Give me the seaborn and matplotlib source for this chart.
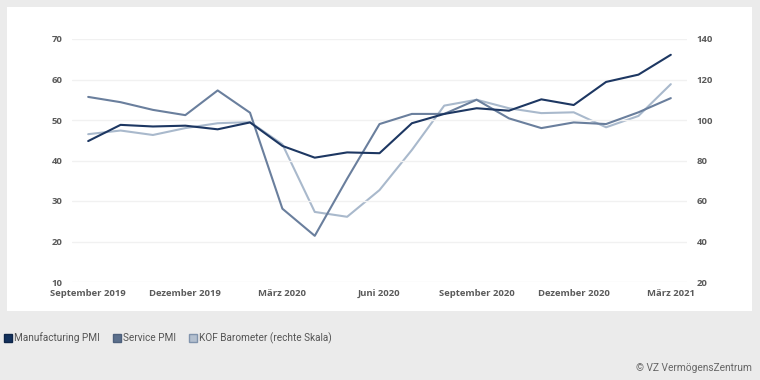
import numpy as np
import pandas as pd
import matplotlib
matplotlib.use("Agg")
import matplotlib.pyplot as plt
from matplotlib.patches import Rectangle
from matplotlib.lines import Line2D
import seaborn as sns

# ─── Data ─────────────────────────────────────────────────────────────────────
months = [
    "Sep 2019", "Okt 2019", "Nov 2019", "Dez 2019", "Jan 2020", "Feb 2020",
    "Mär 2020", "Apr 2020", "Mai 2020", "Jun 2020", "Jul 2020", "Aug 2020",
    "Sep 2020", "Okt 2020", "Nov 2020", "Dez 2020", "Jan 2021", "Feb 2021",
    "Mär 2021",
]
manufacturing_pmi = [44.8, 48.8, 48.4, 48.6, 47.7, 49.4, 43.6, 40.7, 42.0, 41.8,
                     49.2, 51.5, 52.9, 52.3, 55.1, 53.7, 59.4, 61.2, 66.1]
service_pmi = [55.7, 54.4, 52.5, 51.2, 57.3, 51.8, 28.1, 21.4, 35.5, 49.0,
               51.5, 51.5, 55.0, 50.4, 48.0, 49.4, 49.0, 51.9, 55.4]
kof_barometer = [93.0, 94.8, 92.6, 96.0, 98.4, 99.0, 88.0, 54.6, 52.2, 65.4,
                 85.2, 107.1, 110.0, 105.8, 103.4, 103.8, 96.4, 102.0, 117.7]

tick_idx = [0, 3, 6, 9, 12, 15, 18]
tick_labels = ["September 2019", "Dezember 2019", "März 2020", "Juni 2020",
               "September 2020", "Dezember 2020", "März 2021"]
left_ticks = [10, 20, 30, 40, 50, 60, 70]
right_ticks = [20, 40, 60, 80, 100, 120, 140]

series_names = ["Manufacturing PMI", "Service PMI", "KOF Barometer (rechte Skala)"]

C_DARK = "#1d3762"
C_MID = "#6a7f9d"
C_LIGHT = "#a9b9cc"
BG = "#ebebeb"
TICK_C = "#5a5a5a"
NARROW = ["Roboto", "DejaVu Sans"]

df = pd.DataFrame({
    "x": np.arange(len(months)),
    "manufacturing": manufacturing_pmi,
    "service": service_pmi,
    "kof": kof_barometer,
})

sns.set_theme(style="white")
plt.rcParams["font.family"] = ["Open Sans", "DejaVu Sans"]

fig = plt.figure(figsize=(7.6, 3.8), dpi=100, facecolor=BG)
fig.patches.append(Rectangle((7 / 760, 1 - 311 / 380), 745 / 760, 304 / 380,
                             transform=fig.transFigure, facecolor="white",
                             edgecolor="none", zorder=-5))

ax = fig.add_axes([72 / 760, 1 - 282 / 380, 615 / 760, 243 / 380])
ax.set_facecolor("none")
ax2 = ax.twinx()
ax2.patch.set_visible(False)

sns.lineplot(data=df, x="x", y="kof", ax=ax2, color=C_LIGHT, linewidth=1.5)
sns.lineplot(data=df, x="x", y="service", ax=ax, color=C_MID, linewidth=1.5)
sns.lineplot(data=df, x="x", y="manufacturing", ax=ax, color=C_DARK, linewidth=1.5)

# draw left-axis lines above the twin axis
ax.set_zorder(ax2.get_zorder() + 1)

ax.set_xlim(-0.5, len(months) - 0.5)
ax.set_ylim(10, 70)
ax2.set_ylim(20, 140)
ax.set_yticks(left_ticks)
ax2.set_yticks(right_ticks)
ax.set_xticks(tick_idx)
ax.set_xticklabels(tick_labels)

for a in (ax, ax2):
    a.set_xlabel("")
    a.set_ylabel("")
    for s in a.spines.values():
        s.set_visible(False)

ax.grid(axis="y", color="#f1f1f1", linewidth=1.0)
ax.grid(axis="x", visible=False)
ax2.grid(False)

ax.tick_params(axis="y", length=0, pad=7, labelsize=6.8, labelcolor=TICK_C)
ax2.tick_params(axis="y", length=0, pad=7, labelsize=6.8, labelcolor=TICK_C)
ax.tick_params(axis="x", length=0, pad=5, labelsize=6.8, labelcolor=TICK_C)
for lbl in ax.get_xticklabels() + ax.get_yticklabels() + ax2.get_yticklabels():
    lbl.set_fontweight("bold")

# ─── Legend & credit ──────────────────────────────────────────────────────────
handles = [
    Line2D([], [], linestyle="none", marker="s", markersize=6,
           markerfacecolor="#13315c", markeredgecolor="#0e2548"),
    Line2D([], [], linestyle="none", marker="s", markersize=6,
           markerfacecolor="#5b6f8c", markeredgecolor="#4d607c"),
    Line2D([], [], linestyle="none", marker="s", markersize=6,
           markerfacecolor="#b4c0cf", markeredgecolor="#8194ad"),
]
leg = fig.legend(handles, series_names, loc="center left",
                 bbox_to_anchor=(-0.004, 1 - 338 / 380), ncol=3, frameon=False,
                 handlelength=0.5, handletextpad=0.3, columnspacing=1.5,
                 labelcolor="#555555", prop={"family": NARROW, "size": 7.2})

fig.text(752 / 760, 1 - 368 / 380, "© VZ VermögensZentrum", ha="right",
         va="center", fontsize=7.3, color="#666666", family=NARROW)

fig.savefig("out.png", dpi=100, facecolor=BG)
